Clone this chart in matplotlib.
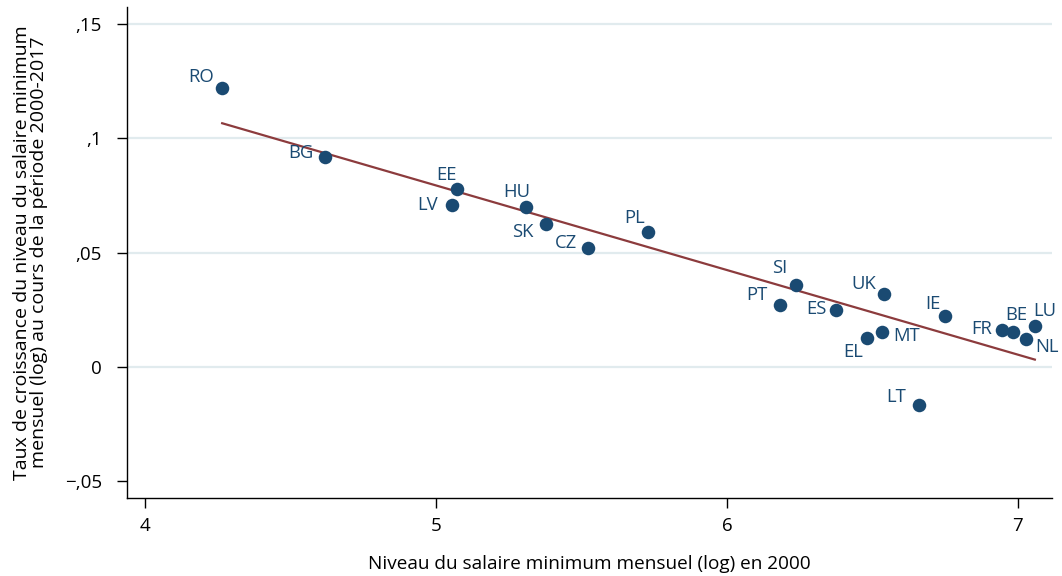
import numpy as np
import matplotlib
matplotlib.use("Agg")
import matplotlib.pyplot as plt

countries = ["RO", "BG", "EE", "LV", "HU", "SK", "CZ", "PL", "SI", "PT",
             "ES", "UK", "EL", "MT", "IE", "FR", "BE", "LU", "NL", "LT"]
log_wage_2000 = [4.265, 4.619, 5.072, 5.055, 5.309, 5.378, 5.522, 5.729, 6.237, 6.182,
                 6.375, 6.540, 6.481, 6.533, 6.749, 6.945, 6.983, 7.058, 7.027, 6.660]
growth_rate = [0.1220, 0.0919, 0.0779, 0.0709, 0.0700, 0.0626, 0.0520, 0.0590, 0.0359, 0.0271,
               0.0249, 0.0319, 0.0127, 0.0153, 0.0223, 0.0162, 0.0153, 0.0179, 0.0122, -0.0166]
x_ticks = [4, 5, 6, 7]
y_ticks = [-0.05, 0, 0.05, 0.1, 0.15]
y_tick_labels = ["\u2212,05", "0", ",05", ",1", ",15"]

# label placement (offset in points, alignment)
label_pos = {
    "RO": (-6, 8, "right"), "BG": (-8, 3, "right"), "EE": (0, 10, "right"),
    "LV": (-10, 0, "right"), "HU": (3, 11, "right"), "SK": (-9, -6, "right"),
    "CZ": (-8, 4, "right"), "PL": (-2, 10, "right"), "SI": (-6, 12, "right"),
    "PT": (-9, 7, "right"), "ES": (-7, 1, "right"), "UK": (-6, 7, "right"),
    "EL": (-3, -10, "right"), "MT": (8, -3, "left"), "IE": (-3, 9, "right"),
    "FR": (-7, 1, "right"), "BE": (10, 12, "right"), "LU": (-1, 11, "left"),
    "NL": (7, -6, "left"), "LT": (-9, 6, "right"),
}

dot_color = "#1a4a72"
line_color = "#8c3b3d"
plt.rcParams["font.family"] = ["Open Sans", "DejaVu Sans"]

fig = plt.figure(figsize=(10.62, 5.76), dpi=100)
ax = fig.add_axes([0.1196, 0.1354, 0.8710, 0.8526])

x = np.array(log_wage_2000)
y = np.array(growth_rate)
slope, intercept = np.polyfit(x, y, 1)
xl = np.array([x.min(), x.max()])
ax.plot(xl, intercept + slope * xl, color=line_color, lw=1.6, zorder=2)
ax.scatter(x, y, s=95, color=dot_color, zorder=3, linewidths=0)

for c, xi, yi in zip(countries, x, y):
    dx, dy, ha = label_pos[c]
    ax.annotate(c, (xi, yi), xytext=(dx, dy), textcoords="offset points",
                ha=ha, va="center", fontsize=13.3, color=dot_color)

ax.set_xlim(3.938, 7.117)
ax.set_ylim(-0.0573, 0.1575)
ax.set_xticks(x_ticks)
ax.set_yticks(y_ticks)
ax.set_yticklabels(y_tick_labels)
for yt in y_ticks[1:]:
    ax.axhline(yt, color="#e1ebee", lw=1.6, zorder=0)
for s in ["top", "right"]:
    ax.spines[s].set_visible(False)
ax.spines["left"].set_linewidth(1.0)
ax.spines["bottom"].set_linewidth(1.0)
ax.tick_params(axis="both", length=7, width=1.0, labelsize=13.5)
ax.tick_params(axis="x", pad=7)
ax.tick_params(axis="y", pad=11)

ax.set_xlabel("Niveau du salaire minimum mensuel (log) en 2000", fontsize=13.7, labelpad=14)
ax.set_ylabel("Taux de croissance du niveau du salaire minimum\nmensuel (log) au cours de la période 2000-2017",
              fontsize=14, labelpad=12, linespacing=0.98)

fig.savefig("out.png", dpi=100)
